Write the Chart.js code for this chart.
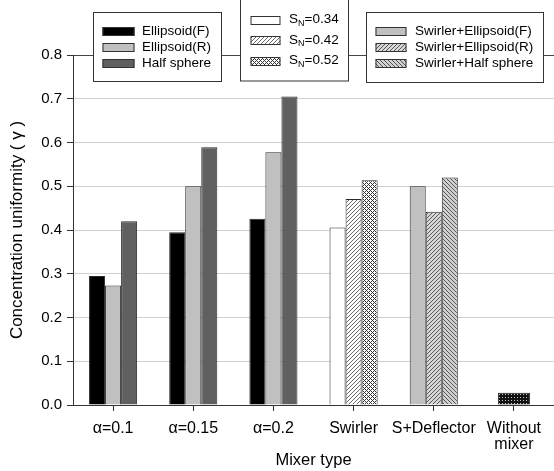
<!DOCTYPE html>
<html>
<head>
<meta charset="utf-8">
<script src="https://cdn.jsdelivr.net/npm/chart.js@4.4.1/dist/chart.umd.min.js"></script>
<style>
  html, body { margin: 0; padding: 0; background: #fff; }
  #wrap { width: 554px; height: 471px; position: relative; }
</style>
</head>
<body>
<div id="wrap"><canvas id="mixerChart"></canvas></div>
<script>
// categories on the x axis
const categories = ['α=0.1', 'α=0.15', 'α=0.2', 'Swirler', 'S+Deflector', ['Without', 'mixer']];

// alpha groups (first three categories)
const ellipsoidF = [0.295, 0.395, 0.426];
const ellipsoidR = [0.273, 0.500, 0.578];
const halfSphere = [0.420, 0.589, 0.705];

// swirler with three S_N values
const swirlerSN = [0.406, 0.471, 0.514];
// swirler + deflector: Ellipsoid(F), Ellipsoid(R), Half sphere
const deflector = [0.500, 0.442, 0.520];
// no mixer at all
const withoutMixer = [0.028];

const yTicks = [0, 0.1, 0.2, 0.3, 0.4, 0.5, 0.6, 0.7, 0.8];

// legend texts
const alphaNames = ['Ellipsoid(F)', 'Ellipsoid(R)', 'Half sphere'];
const snValues = ['0.34', '0.42', '0.52'];
const swirlerNames = ['Swirler+Ellipsoid(F)', 'Swirler+Ellipsoid(R)', 'Swirler+Half sphere'];

const FONT = '"Liberation Sans", Arial, sans-serif';

// small tile patterns, drawn pixel by pixel so they stay crisp
function makePattern(size, bg, fg, test) {
    const c = document.createElement('canvas');
    c.width = size; c.height = size;
    const g = c.getContext('2d');
    g.fillStyle = bg;
    g.fillRect(0, 0, size, size);
    g.fillStyle = fg;
    for (let x = 0; x < size; x++) {
        for (let y = 0; y < size; y++) {
            if (test(x, y)) g.fillRect(x, y, 1, 1);
        }
    }
    return g.createPattern(c, 'repeat');
}

const black = '#000000';
const lightGray = '#c0c0c0';
const darkGray = '#606060';
const white = '#ffffff';
const hatchSN = makePattern(4, '#ffffff', '#6a6a6a', (x, y) => (x + y) % 4 === 0);
const crossSN = makePattern(4, '#ffffff', '#333333', (x, y) => (x + y) % 4 === 0 || ((x - y) % 4 + 4) % 4 === 0);
const hatchR = makePattern(4, '#d6d6d6', '#5a5a5a', (x, y) => (x + y) % 4 === 0);
const backHalf = makePattern(4, '#d0d0d0', '#555555', (x, y) => ((x - y) % 4 + 4) % 4 === 0);
const dotsDark = makePattern(3, '#111111', '#c8c8c8', (x, y) => x === 1 && y === 1);

const firstFills = [black, black, black, white, lightGray, white];
const secondFills = [lightGray, lightGray, lightGray, hatchSN, hatchR, white];
const thirdFills = [darkGray, darkGray, darkGray, crossSN, backHalf, white];

// build per-bar series from the small arrays
const first = [...ellipsoidF, swirlerSN[0], deflector[0], null];
const second = [...ellipsoidR, swirlerSN[1], deflector[1], null];
const third = [...halfSphere, swirlerSN[2], deflector[2], null];
const single = [null, null, null, null, null, withoutMixer[0]];

// custom three-box legend
const legendBoxes = [
    { x: 93.5, y: 12.5, w: 128, h: 69, sw: 102.5, swW: 32, tx: 142, rows: [31, 47, 63],
      fills: [black, lightGray, darkGray], labels: alphaNames, sub: false },
    { x: 240.5, y: -0.5, w: 108, h: 81.5, sw: 250.5, swW: 30, tx: 289, rows: [19.5, 40, 60.5],
      fills: [white, hatchSN, crossSN], labels: snValues, sub: true },
    { x: 366.5, y: 12.5, w: 177, h: 70, sw: 375.5, swW: 31, tx: 415, rows: [31, 47, 63],
      fills: [lightGray, hatchR, backHalf], labels: swirlerNames, sub: false }
];

const boxLegend = {
    id: 'boxLegend',
    afterDraw(chart) {
        const ctx = chart.ctx;
        ctx.save();
        legendBoxes.forEach(b => {
            ctx.fillStyle = '#fff';
            ctx.fillRect(b.x, b.y, b.w, b.h);
            ctx.strokeStyle = '#333';
            ctx.lineWidth = 1;
            ctx.strokeRect(b.x, b.y, b.w, b.h);
            b.rows.forEach((ry, i) => {
                ctx.fillStyle = b.fills[i];
                ctx.fillRect(b.sw, Math.round(ry) - 4, b.swW, 9);
                ctx.strokeStyle = '#333';
                ctx.strokeRect(b.sw + 0.5, Math.round(ry) - 3.5, b.swW - 1, 8);
                ctx.fillStyle = '#000';
                ctx.textBaseline = 'middle';
                ctx.textAlign = 'left';
                if (b.sub) {
                    ctx.font = '13.5px ' + FONT;
                    ctx.fillText('S', b.tx, ry);
                    let x = b.tx + ctx.measureText('S').width;
                    ctx.font = '9px ' + FONT;
                    ctx.fillText('N', x, ry + 4);
                    x += ctx.measureText('N').width;
                    ctx.font = '13.5px ' + FONT;
                    ctx.fillText('=' + b.labels[i], x, ry);
                } else {
                    ctx.font = '13.5px ' + FONT;
                    ctx.fillText(b.labels[i], b.tx, ry);
                }
            });
        });
        ctx.restore();
    }
};

const barBase = {
    borderColor: '#2a2a2a',
    borderWidth: 1,
    categoryPercentage: 0.6,
    barPercentage: 1.0
};

new Chart(document.getElementById('mixerChart'), {
    type: 'bar',
    data: {
        labels: categories,
        datasets: [
            { ...barBase, label: 'first', data: first, backgroundColor: firstFills },
            { ...barBase, label: 'second', data: second, backgroundColor: secondFills },
            { ...barBase, label: 'third', data: third, backgroundColor: thirdFills },
            { ...barBase, label: 'Without mixer', data: single, backgroundColor: dotsDark,
              grouped: false, categoryPercentage: 0.4 }
        ]
    },
    options: {
        responsive: true,
        maintainAspectRatio: false,
        animation: false,
        layout: { padding: { top: 55, right: 0, left: 0, bottom: 0 } },
        plugins: {
            legend: { display: false },
            tooltip: { enabled: false }
        },
        scales: {
            x: {
                afterFit: s => { s.height = 66; },
                grid: {
                    offset: false,
                    drawOnChartArea: false,
                    tickLength: 6,
                    tickColor: '#333'
                },
                border: { color: '#333' },
                ticks: {
                    color: '#000',
                    font: { family: FONT, size: 16, lineHeight: 1.0 },
                    padding: 10,
                    maxRotation: 0,
                    autoSkip: false
                },
                title: {
                    display: true,
                    text: 'Mixer type',
                    color: '#000',
                    font: { family: FONT, size: 16.5 },
                    padding: { top: 0, bottom: 1 }
                }
            },
            y: {
                min: 0,
                max: 0.8,
                afterFit: s => { s.width = 73; },
                afterBuildTicks: s => { s.ticks = yTicks.map(v => ({ value: v })); },
                grid: {
                    color: c => (c.tick && c.tick.value === 0.8 ? '#444' : '#d0d0d0'),
                    tickLength: 6,
                    tickColor: '#333'
                },
                border: { color: '#333' },
                ticks: {
                    color: '#000',
                    font: { family: FONT, size: 15 },
                    padding: 5,
                    callback: v => Number(v).toFixed(1)
                },
                title: {
                    display: true,
                    text: 'Concentration uniformity ( γ )',
                    color: '#000',
                    font: { family: FONT, size: 17 },
                    padding: { top: 7, bottom: 0 }
                }
            }
        }
    },
    plugins: [boxLegend]
});
</script>
</body>
</html>
